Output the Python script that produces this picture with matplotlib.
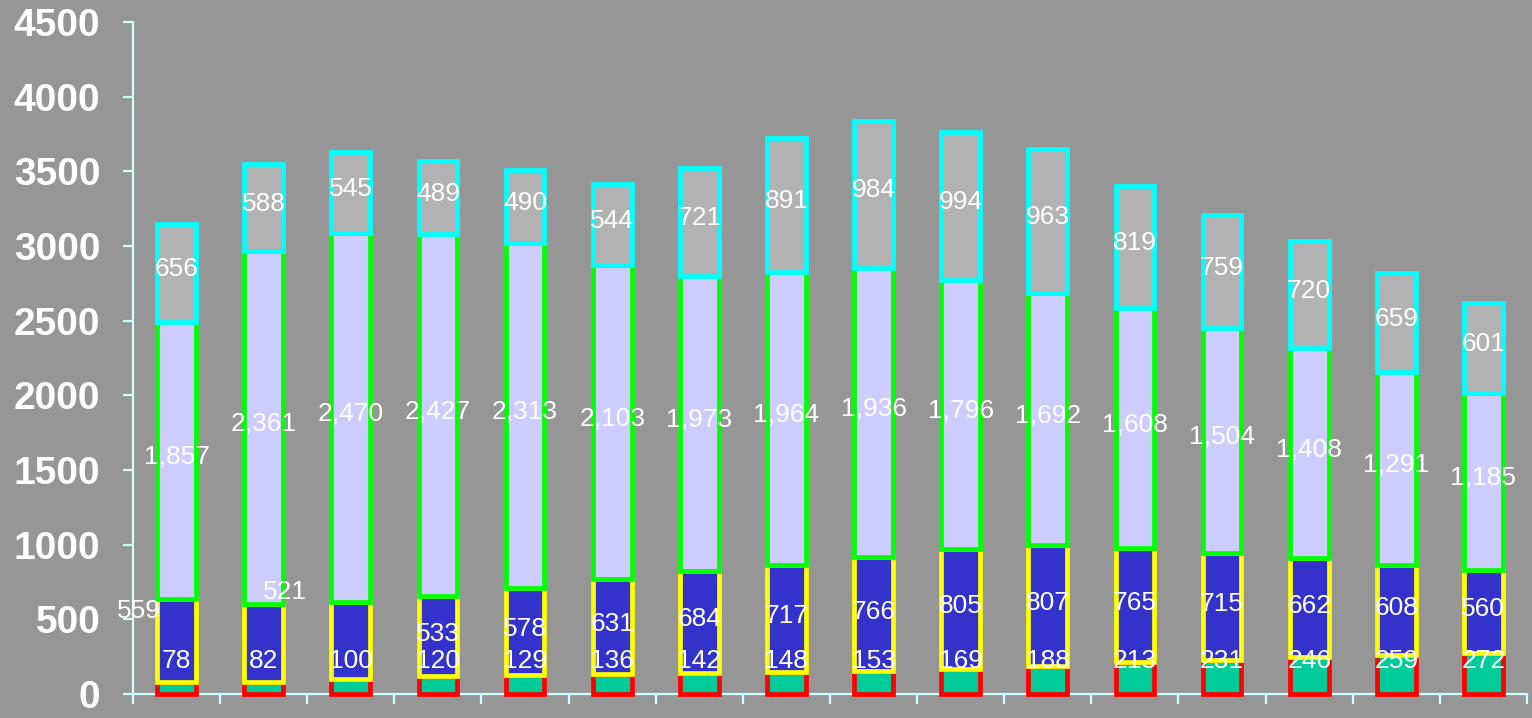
import matplotlib
matplotlib.use("Agg")
import matplotlib.pyplot as plt
import numpy as np

# ---- data ----
teal_vals = [78, 82, 100, 120, 129, 136, 142, 148, 153, 169, 188, 213, 231, 246, 259, 272]
blue_vals = [559, 521, 515, 533, 578, 631, 684, 717, 766, 805, 807, 765, 715, 662, 608, 560]
lav_vals = [1857, 2361, 2470, 2427, 2313, 2103, 1973, 1964, 1936, 1796, 1692, 1608, 1504, 1408, 1291, 1185]
gray_vals = [656, 588, 545, 489, 490, 544, 721, 891, 984, 994, 963, 819, 759, 720, 659, 601]
blue_label_shown = [True, True, False] + [True] * 13
y_ticks = [0, 500, 1000, 1500, 2000, 2500, 3000, 3500, 4000, 4500]

BG = "#969696"
AXC = "#ccffff"

fig = plt.figure(figsize=(15.32, 7.18), dpi=100, facecolor=BG)
ax = fig.add_axes([0.0868, 0.0334, 0.9099, 0.9360])
ax.set_facecolor(BG)

n = len(teal_vals)
x = np.arange(n)
w = 0.445
lw = 3.4

teal = np.array(teal_vals)
blue = np.array(blue_vals)
lav = np.array(lav_vals)
gray = np.array(gray_vals)

ax.bar(x, teal, w, color="#00cc99", edgecolor="#ff0000", linewidth=lw, zorder=3, clip_on=False)
ax.bar(x, blue, w, bottom=teal, color="#3333cc", edgecolor="#ffff00", linewidth=lw, zorder=3.1, clip_on=False)
ax.bar(x, lav, w, bottom=teal + blue, color="#ccccff", edgecolor="#00ff00", linewidth=lw, zorder=3.2, clip_on=False)
ax.bar(x, gray, w, bottom=teal + blue + lav, color="#b2b2b2", edgecolor="#00ffff", linewidth=lw, zorder=3.3, clip_on=False)

lab_kw = dict(color="white", fontsize=19, ha="center", va="center", zorder=5,
              family=["Liberation Sans", "DejaVu Sans"])

# special label nudges (x in categories, y in data units) for overlapping labels
blue_nudge = {0: (-0.43, 200), 1: (0.24, 340)}

for i in range(n):
    # teal labels sit at a constant height
    ax.text(x[i], 222, f"{teal[i]:,}", **lab_kw)
    if blue_label_shown[i]:
        dx, dy = blue_nudge.get(i, (0, 15))
        ax.text(x[i] + dx, teal[i] + blue[i] / 2 + dy, f"{blue[i]:,}", **lab_kw)
    ax.text(x[i], teal[i] + blue[i] + lav[i] / 2 + 25, f"{lav[i]:,}", **lab_kw)
    ax.text(x[i], teal[i] + blue[i] + lav[i] + gray[i] / 2 + 25, f"{gray[i]:,}", **lab_kw)

ax.set_xlim(-0.5, n - 0.5)
ax.set_ylim(0, 4500)
ax.set_yticks(y_ticks)
ax.set_yticklabels([str(t) for t in y_ticks])
ax.set_xticks(np.arange(-0.5, n, 1.0))
ax.set_xticklabels([])

for s in ["top", "right"]:
    ax.spines[s].set_visible(False)
for s in ["left", "bottom"]:
    ax.spines[s].set_color(AXC)
    ax.spines[s].set_linewidth(1.6)
    ax.spines[s].set_zorder(2.5)

ax.tick_params(axis="both", direction="out", length=7.5, width=1.6, color=AXC)
ax.tick_params(axis="y", pad=16, labelcolor="white", labelsize=28)
for lbl in ax.get_yticklabels():
    lbl.set_fontweight("bold")
    lbl.set_family(["Liberation Sans", "DejaVu Sans"])

fig.savefig("out.png", dpi=100, facecolor=BG)
